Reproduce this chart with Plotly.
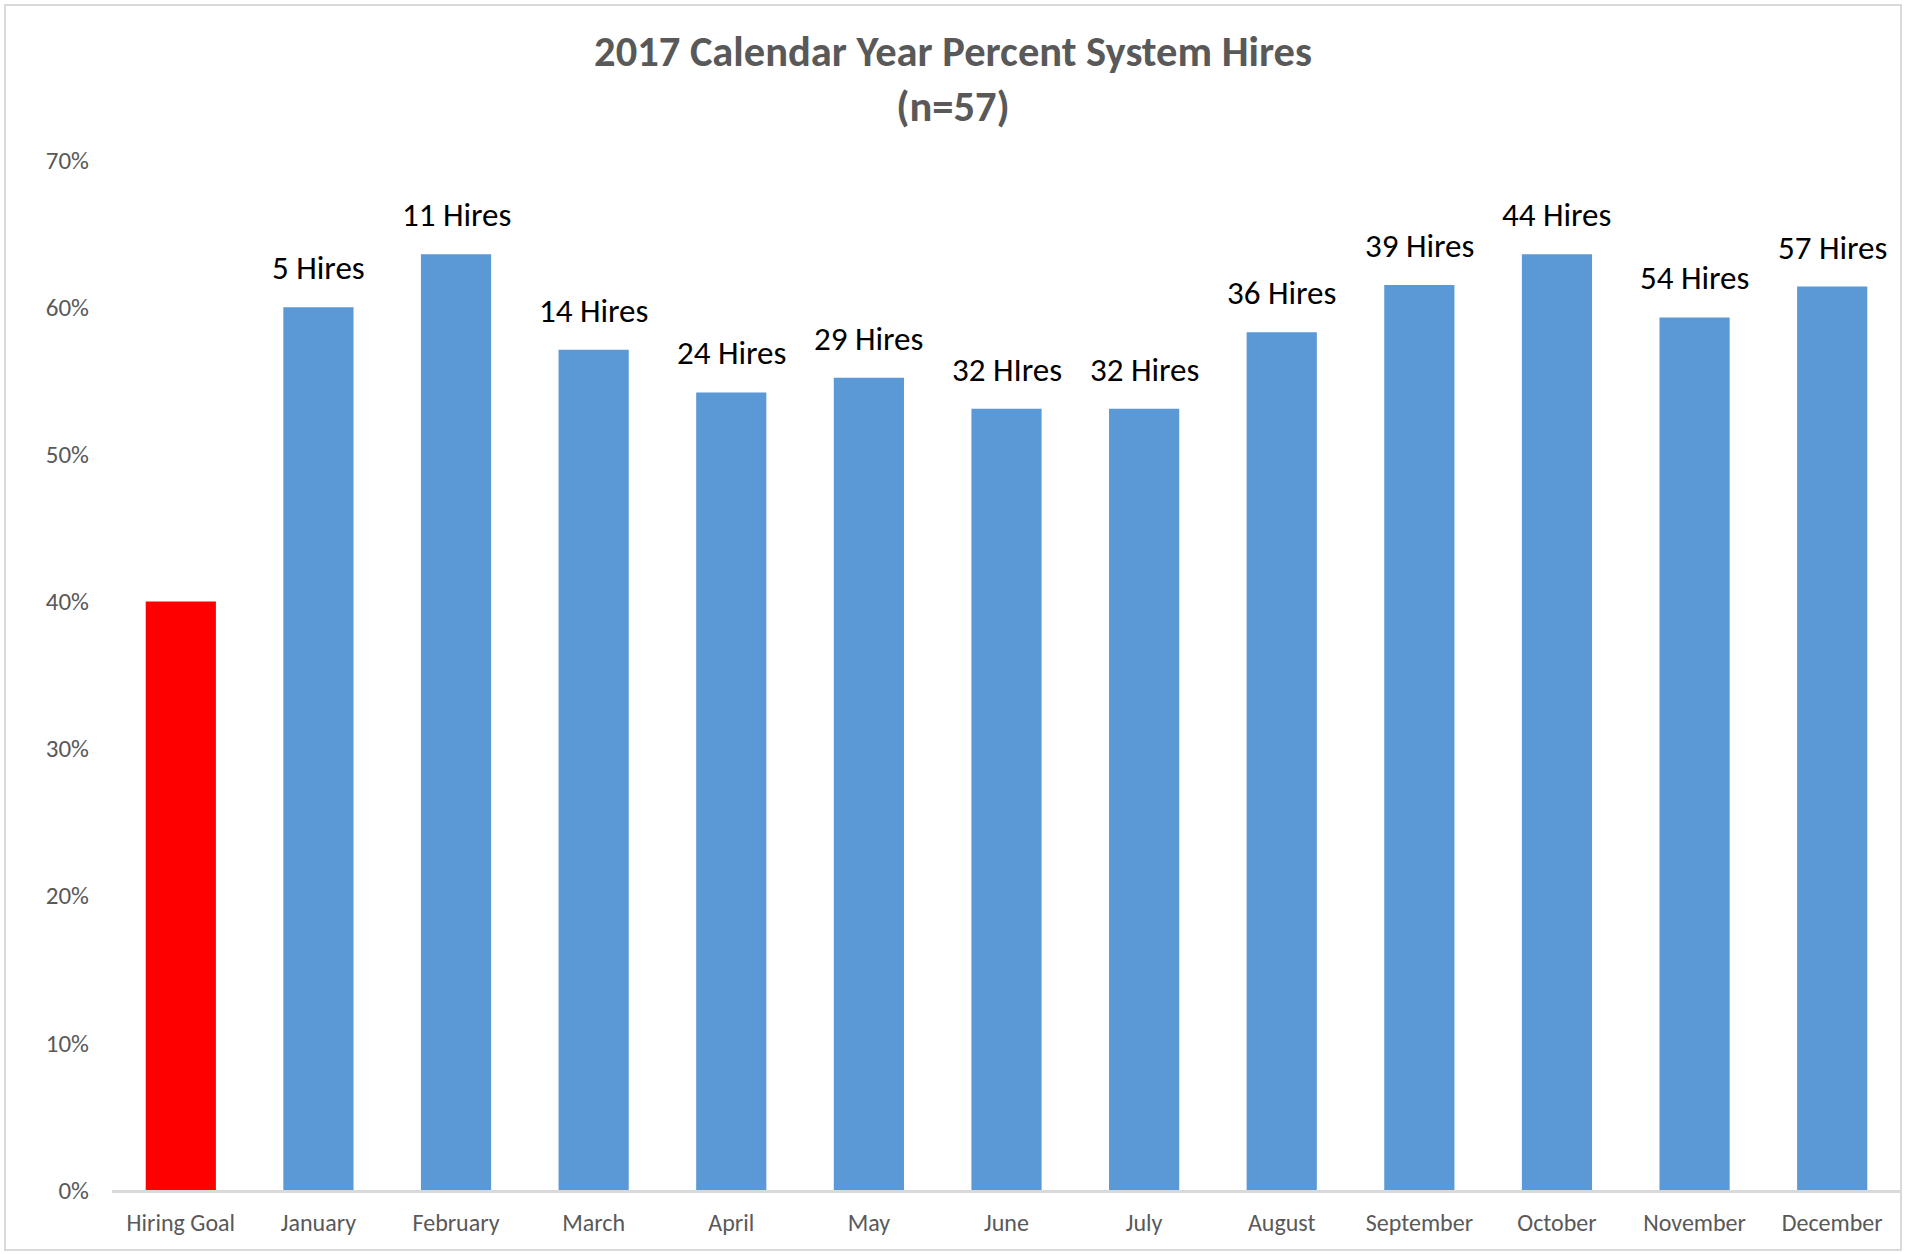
import plotly.graph_objects as go

categories = ["Hiring Goal", "January", "February", "March", "April", "May", "June",
              "July", "August", "September", "October", "November", "December"]
percent_hired = [0.40, 0.600, 0.636, 0.571, 0.542, 0.552, 0.531, 0.531, 0.583, 0.615, 0.636, 0.593, 0.614]
hire_labels = ["", "5 Hires", "11 Hires", "14 Hires", "24 Hires", "29 Hires", "32 HIres",
               "32 Hires", "36 Hires", "39 Hires", "44 Hires", "54 Hires", "57 Hires"]
y_ticks = [0, 0.1, 0.2, 0.3, 0.4, 0.5, 0.6, 0.7]

W, H = 1906, 1254
ML, MR, MT, MB = 112, 5, 160, 64
PW, PH = W - ML - MR, H - MT - MB

FONT = "Carlito, Calibri, Lato, 'Open Sans', sans-serif"
bar_colors = ["#FF0000"] + ["#5A98D6"] * (len(categories) - 1)

fig = go.Figure(go.Bar(
    x=categories, y=percent_hired,
    marker=dict(color=bar_colors, line=dict(width=0)),
    width=0.51,
    hoverinfo="x+y",
))

for c, v, t in zip(categories, percent_hired, hire_labels):
    if t:
        fig.add_annotation(x=c, y=v, text=t, showarrow=False, yanchor="middle",
                           yshift=39, font=dict(family=FONT, size=33, color="#000000"))

# outer chart border
def px_x(p):
    return (p - ML) / PW

def px_y(p):
    return (H - MB - p) / PH

fig.add_shape(type="rect", xref="paper", yref="paper",
              x0=px_x(5), x1=px_x(1901), y0=px_y(1250), y1=px_y(5),
              line=dict(color="#D9D9D9", width=2), fillcolor="rgba(0,0,0,0)", layer="below")

fig.update_layout(
    width=W, height=H,
    margin=dict(l=ML, r=MR, t=MT, b=MB),
    paper_bgcolor="white", plot_bgcolor="white",
    showlegend=False,
    title=dict(text="<b>2017 Calendar Year Percent System Hires<br>(n=57)</b>",
               x=0.5, xref="container", xanchor="center",
               y=1 - 66 / H, yref="container", yanchor="middle",
               font=dict(family=FONT, size=42.5, color="#595959")),
    font=dict(family=FONT),
)
fig.update_xaxes(showgrid=False, showline=True, linecolor="#D9D9D9", linewidth=3,
                 ticks="", ticklabelstandoff=9,
                 tickfont=dict(family=FONT, size=24, color="#595959"))
fig.update_yaxes(range=[0, 0.7], tickvals=y_ticks, tickformat=".0%", showgrid=False,
                 zeroline=False, showline=False, ticks="", ticklabelstandoff=22,
                 tickfont=dict(family=FONT, size=25, color="#595959"))

fig.write_html("out.html")
